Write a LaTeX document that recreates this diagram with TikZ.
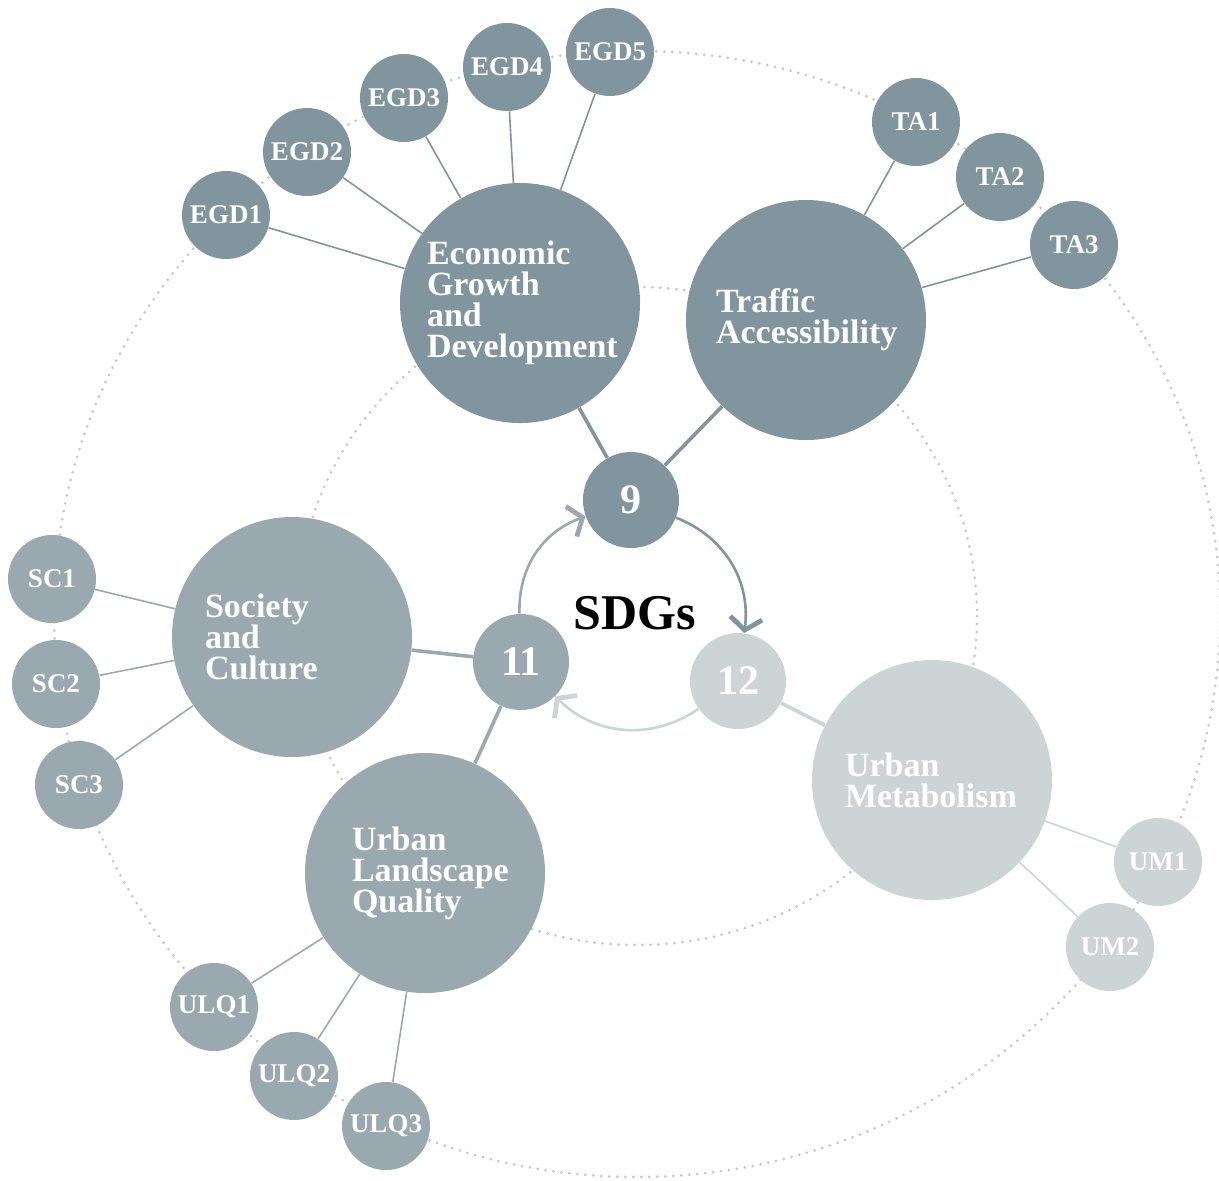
\documentclass[tikz,border=0pt]{standalone}
\usepackage{fontspec}
\setmainfont{Liberation Serif}
\usetikzlibrary{arrows.meta}

\definecolor{darkgrey}{RGB}{128,149,157}
\definecolor{midgrey}{RGB}{154,169,175}
\definecolor{lightgrey}{RGB}{205,212,214}
\definecolor{ringgrey}{RGB}{198,198,198}

\tikzset{
    bigcircle/.style={circle, fill=#1, text=white, minimum size=120pt, inner sep=0pt,
        align=left, font=\fontsize{17}{15.5}\selectfont\bfseries},
    smallcircle/.style={circle, fill=#1, text=white, minimum size=44pt, inner sep=0pt,
        font=\fontsize{13.5}{14}\selectfont\bfseries},
    goalcircle/.style={circle, fill=#1, text=white, minimum size=48pt, inner sep=0pt,
        font=\fontsize{21}{21}\selectfont\bfseries},
    ring/.style={ringgrey, line width=1.5pt, line cap=round, dash pattern=on 0pt off 4pt},
    thinlink/.style={#1, line width=0.8pt},
    thicklink/.style={#1, line width=1.8pt},
    cyclearrow/.style={#1, line width=1.3pt, -{Straight Barb[length=6pt,width=16pt,line width=2.4pt]}}
}

\begin{document}
\begin{tikzpicture}[x=0.5pt, y=-0.5pt]
            \useasboundingbox (0,0) rectangle (1219,1180);
            % dotted rings
            \draw[ring] (637,614) ellipse [x radius=583, y radius=563];
            \draw[ring] (637,616) ellipse [x radius=340, y radius=329];

            % main themes
            \node[bigcircle=darkgrey, text width=93pt] (eg) at (520,303) {Economic\\Growth\\and\\Development};
            \node[bigcircle=darkgrey, text width=90pt] (ta) at (806,320) {Traffic\\Accessibility};
            \node[bigcircle=midgrey, text width=87pt] (sc) at (292,637) {Society\\and\\Culture};
            \node[bigcircle=midgrey, text width=73pt] (ulq) at (425,873) {Urban\\Landscape\\Quality};
            \node[bigcircle=lightgrey, text width=87pt] (um) at (932,780) {Urban\\Metabolism};

            % goals
            \node[goalcircle=darkgrey] (n9) at (631,500) {9};
            \node[goalcircle=midgrey] (n11) at (521,662) {11};
            \node[goalcircle=lightgrey] (n12) at (738,681) {12};
            \node[font=\fontsize{25}{25}\selectfont\bfseries] (sdg) at (635,613) {SDGs};

            % indicators
            \node[smallcircle=darkgrey] (egd1) at (226,215) {EGD1};
            \node[smallcircle=darkgrey] (egd2) at (307,152) {EGD2};
            \node[smallcircle=darkgrey] (egd3) at (404,98) {EGD3};
            \node[smallcircle=darkgrey] (egd4) at (507,67) {EGD4};
            \node[smallcircle=darkgrey] (egd5) at (610,52) {EGD5};
            \node[smallcircle=darkgrey] (ta1) at (916,122) {TA1};
            \node[smallcircle=darkgrey] (ta2) at (1000,177) {TA2};
            \node[smallcircle=darkgrey] (ta3) at (1074,245) {TA3};
            \node[smallcircle=midgrey] (sc1) at (52,579) {SC1};
            \node[smallcircle=midgrey] (sc2) at (56,684) {SC2};
            \node[smallcircle=midgrey] (sc3) at (79,785) {SC3};
            \node[smallcircle=midgrey] (ulq1) at (214,1007) {ULQ1};
            \node[smallcircle=midgrey] (ulq2) at (294,1076) {ULQ2};
            \node[smallcircle=midgrey] (ulq3) at (386,1126) {ULQ3};
            \node[smallcircle=lightgrey] (um1) at (1158,862) {UM1};
            \node[smallcircle=lightgrey] (um2) at (1110,947) {UM2};

            % links
            \draw[thinlink=darkgrey] (eg) -- (egd1);
            \draw[thinlink=darkgrey] (eg) -- (egd2);
            \draw[thinlink=darkgrey] (eg) -- (egd3);
            \draw[thinlink=darkgrey] (eg) -- (egd4);
            \draw[thinlink=darkgrey] (eg) -- (egd5);
            \draw[thinlink=darkgrey] (ta) -- (ta1);
            \draw[thinlink=darkgrey] (ta) -- (ta2);
            \draw[thinlink=darkgrey] (ta) -- (ta3);
            \draw[thinlink=midgrey] (sc) -- (sc1);
            \draw[thinlink=midgrey] (sc) -- (sc2);
            \draw[thinlink=midgrey] (sc) -- (sc3);
            \draw[thinlink=midgrey] (ulq) -- (ulq1);
            \draw[thinlink=midgrey] (ulq) -- (ulq2);
            \draw[thinlink=midgrey] (ulq) -- (ulq3);
            \draw[thinlink=lightgrey] (um) -- (um1);
            \draw[thinlink=lightgrey] (um) -- (um2);

            \draw[thicklink=darkgrey] (eg) -- (n9);
            \draw[thicklink=darkgrey] (ta) -- (n9);
            \draw[thicklink=midgrey] (sc) -- (n11);
            \draw[thicklink=midgrey] (ulq) -- (n11);
            \draw[thicklink=lightgrey] (um) -- (n12);

            % cycle
            \draw[cyclearrow=midgrey] (n11) to[bend left=36] (n9);
            \draw[cyclearrow=darkgrey] (n9) to[bend left=38] (n12);
            \draw[cyclearrow=lightgrey] (n12) to[bend left=40] (n11);
\end{tikzpicture}
\end{document}
